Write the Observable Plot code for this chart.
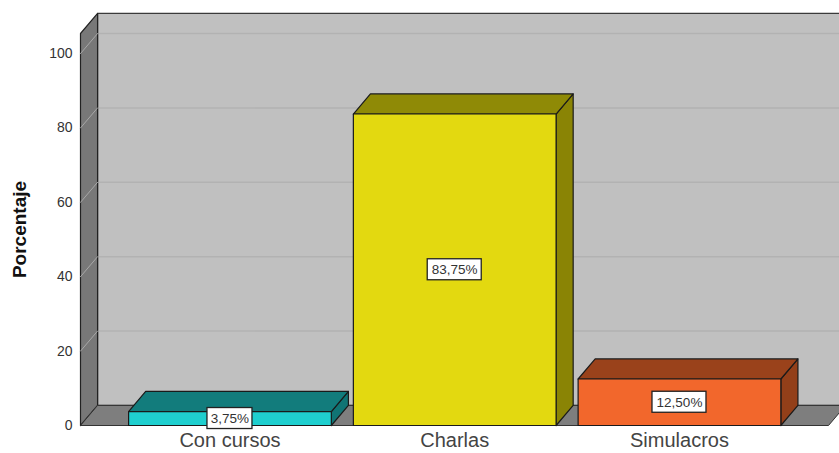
<!DOCTYPE html>
<html>
<head>
<meta charset="utf-8">
<script src="https://cdn.jsdelivr.net/npm/d3@7"></script>
<script src="https://cdn.jsdelivr.net/npm/@observablehq/plot@0.6"></script>
<style>
  html, body { margin: 0; padding: 0; background: #fff; }
  #chart { width: 839px; height: 453px; }
</style>
</head>
<body>
<div id="chart"></div>
<script>
// ---- data ----
const categories = ["Con cursos", "Charlas", "Simulacros"];
const values = [3.75, 83.75, 12.50];
const yTicks = [0, 20, 40, 60, 80, 100];
const yLabel = "Porcentaje";
const frontColors = ["#1fcfcf", "#e3d910", "#f2672c"];
const topColors = ["#127c7c", "#8f8a06", "#9a421b"];
const sideColors = ["#107474", "#8a8405", "#933f19"];

// ---- geometry in data units ----
const xMin = -0.665, xMax = 2.663;   // front floor extent
const yMax = 105.4;                   // front wall top
const dX = 0.076, dY = 5.4;           // depth offset
const half = 0.451;                   // half bar width

const fmt = v => v.toFixed(2).replace(".", ",") + "%";

function poly(id, pts, fill) {
  return pts.concat([pts[0]]).map(([x, y]) => ({id, x, y, fill}));
}

const walls = poly("back", [[xMin + dX, dY], [xMax + 0.1 + dX, dY], [xMax + 0.1 + dX, yMax + dY], [xMin + dX, yMax + dY]], "#c0c0c0");
const leftWall = poly("left", [[xMin, 0], [xMin, yMax], [xMin + dX, yMax + dY], [xMin + dX, dY]], "#787878");
const floor = poly("floor", [[xMin, 0], [xMax, 0], [xMax + dX, dY], [xMin + dX, dY]], "#7e7e7e");

const backGrid = yTicks.filter(t => t > 0).flatMap(t => [
  {id: t, x: xMin + dX, y: t + dY}, {id: t, x: xMax + 0.1 + dX, y: t + dY}
]);
const sideGrid = yTicks.filter(t => t > 0).flatMap(t => [
  {id: t, x: xMin, y: t}, {id: t, x: xMin + dX, y: t + dY}
]);

const barPolys = values.flatMap((v, i) => [
  ...poly("side" + i, [[i + half, 0], [i + half + dX, dY], [i + half + dX, v + dY], [i + half, v]], sideColors[i]),
  ...poly("top" + i, [[i - half, v], [i + half, v], [i + half + dX, v + dY], [i - half + dX, v + dY]], topColors[i]),
  ...poly("front" + i, [[i - half, 0], [i + half, 0], [i + half, v], [i - half, v]], frontColors[i])
]);

const labels = values.map((v, i) => ({i, v, mid: v / 2, text: fmt(v)}));

const chart = Plot.plot({
  width: 839,
  height: 453,
  marginLeft: 80,
  marginRight: 11,
  marginTop: 33,
  marginBottom: 28,
  style: {fontFamily: "Arial, 'Liberation Sans', sans-serif", background: "#fff"},
  x: {type: "linear", domain: [xMin, xMax], axis: null},
  y: {domain: [0, yMax], axis: null},
  marks: [
    Plot.line(walls, {x: "x", y: "y", z: "id", fill: "fill", stroke: "#3a3a3a", strokeWidth: 1.2}),
    Plot.line(backGrid, {x: "x", y: "y", z: "id", stroke: "#b2b2b2", strokeWidth: 1.5}),
    Plot.line(leftWall, {x: "x", y: "y", z: "id", fill: "fill", stroke: "#222", strokeWidth: 1.2}),
    Plot.line(sideGrid, {x: "x", y: "y", z: "id", stroke: "#a8a8a8", strokeWidth: 1}),
    Plot.line(floor, {x: "x", y: "y", z: "id", fill: "fill", stroke: "#333", strokeWidth: 1}),
    Plot.line(barPolys, {x: "x", y: "y", z: "id", fill: "fill", stroke: "#1a1a1a", strokeWidth: 1.2, strokeLinejoin: "round"}),
    // y tick labels
    Plot.text(yTicks, {x: xMin, y: d => d, text: d => String(d), textAnchor: "end", dx: -8, fontSize: 14, fill: "#333"}),
    // category labels
    Plot.text(categories, {x: (d, i) => i, y: 0, text: d => d, lineAnchor: "top", dy: 7, fontSize: 20, fill: "#444"}),
    // y axis title
    Plot.text([yLabel], {frameAnchor: "left", textAnchor: "middle", text: d => d, rotate: -90, dx: -61, fontSize: 19, fontWeight: "bold", fill: "#111"}),
    // value label boxes
    ...labels.map(d => Plot.rect([d], {
      x1: "i", x2: "i", y1: "mid", y2: "mid",
      insetLeft: -(d.text.length * 4.5), insetRight: -(d.text.length * 4.5),
      insetTop: -10.5, insetBottom: -10.5,
      fill: "#fff", stroke: "#222", strokeWidth: 1.3
    })),
    Plot.text(labels, {x: "i", y: "mid", text: "text", fontSize: 13.5, fill: "#333"})
  ]
});
document.getElementById("chart").appendChild(chart);
</script>
</body>
</html>
